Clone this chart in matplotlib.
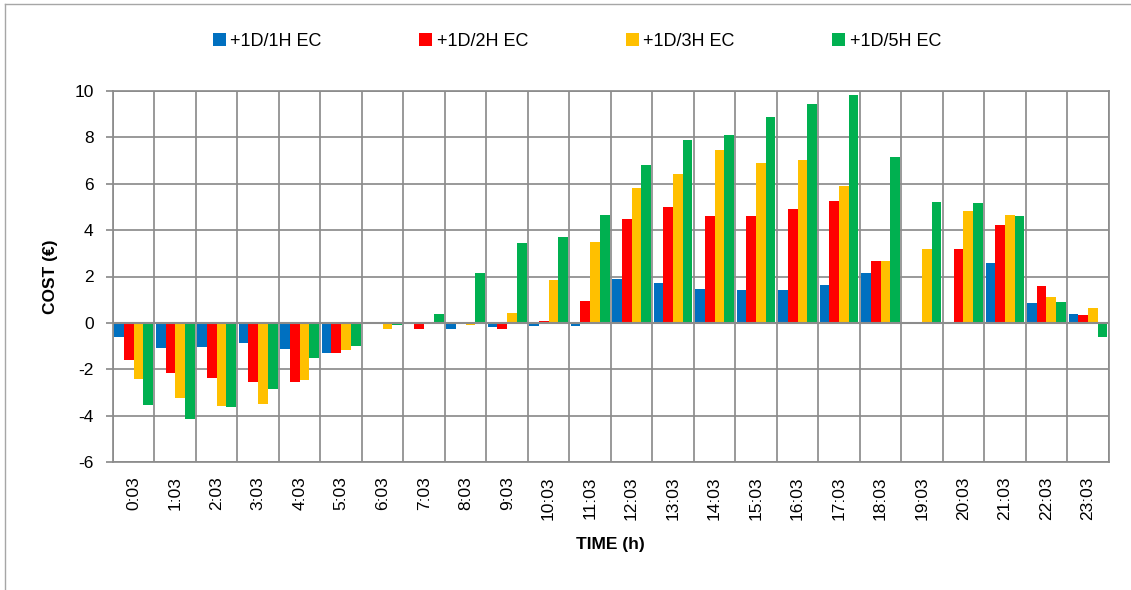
import matplotlib
matplotlib.use("Agg")
import matplotlib.pyplot as plt
import numpy as np
from matplotlib.lines import Line2D

plt.rcParams['font.family'] = ['Liberation Sans', 'DejaVu Sans']

hours = [f"{h}:03" for h in range(24)]
series_names = ["+1D/1H EC", "+1D/2H EC", "+1D/3H EC", "+1D/5H EC"]
colors = ["#0070C0", "#FF0000", "#FFC000", "#00B050"]

ec_1h = [-0.60, -1.10, -1.03, -0.87, -1.14, -1.29, 0.00, 0.00, -0.27, -0.19, -0.13, -0.13,
         1.88, 1.74, 1.45, 1.40, 1.40, 1.65, 2.17, 0.00, 0.00, 2.59, 0.85, 0.37]
ec_2h = [-1.60, -2.17, -2.39, -2.56, -2.53, -1.29, 0.00, -0.27, -0.07, -0.27, 0.07, 0.94,
         4.47, 4.99, 4.60, 4.59, 4.89, 5.27, 2.68, 0.00, 3.19, 4.20, 1.57, 0.36]
ec_3h = [-2.41, -3.23, -3.57, -3.49, -2.46, -1.17, -0.27, -0.07, -0.10, 0.41, 1.84, 3.50,
         5.83, 6.40, 7.45, 6.88, 7.04, 5.90, 2.68, 3.19, 4.82, 4.66, 1.11, 0.66]
ec_5h = [-3.54, -4.14, -3.63, -2.84, -1.51, -1.00, -0.10, 0.37, 2.16, 3.45, 3.70, 4.66,
         6.82, 7.87, 8.09, 8.89, 9.42, 9.83, 7.15, 5.21, 5.18, 4.59, 0.88, -0.63]

y_ticks = [-6, -4, -2, 0, 2, 4, 6, 8, 10]

W, H = 1131, 590
fig = plt.figure(figsize=(W / 100, H / 100), dpi=100)
left, right, top, bottom = 113 / W, 1108.7 / W, 1 - 91 / H, 1 - 462 / H
ax = fig.add_axes([left, bottom, right - left, top - bottom])

x = np.arange(len(hours))
bw = 0.234
all_series = [ec_1h, ec_2h, ec_3h, ec_5h]
handles = []
for k, (vals, c, name) in enumerate(zip(all_series, colors, series_names)):
    b = ax.bar(x + (k - 1.5) * bw, vals, width=bw, color=c, label=name, zorder=3, linewidth=0)
    handles.append(b)

grid_c = "#8c8c8c"
ax.set_xlim(-0.5, len(hours) - 0.5)
ax.set_ylim(-6, 10)
ax.set_yticks(y_ticks)
ax.set_yticklabels([str(v) for v in y_ticks])
ax.set_xticks(x)
ax.set_xticklabels(hours, rotation=90)
ax.set_xticks(np.arange(-0.5, len(hours), 1.0), minor=True)
ax.grid(False)
ax.xaxis.grid(True, which='minor', color=grid_c, lw=1.25, zorder=1)
ax.yaxis.grid(True, which='major', color=grid_c, lw=1.25, zorder=1)
ax.tick_params(axis='x', which='major', length=0, pad=10.5, labelsize=12.5, colors='black')
ax.tick_params(axis='x', which='minor', length=0)
ax.tick_params(axis='y', length=5, width=1.25, color=grid_c, pad=9, labelsize=12.5)
for s in ax.spines.values():
    s.set_color(grid_c)
    s.set_linewidth(1.25)

ax.axhline(0, color=grid_c, lw=1.5, zorder=4)

ax.set_ylabel("COST (€)", fontsize=12.5, fontweight='bold')
ax.yaxis.set_label_coords((51 - 113) / (1108.7 - 113), 0.5)
ax.yaxis.label.set_va('center')
ax.set_xlabel("TIME (h)", fontsize=12.5, fontweight='bold')
ax.xaxis.set_label_coords(0.5, (462 - 545) / (462 - 91))
ax.xaxis.label.set_va('center')

fig.legend(handles=handles, labels=series_names, loc='center',
           bbox_to_anchor=(577 / W, 1 - 41 / H), ncol=4, frameon=False,
           fontsize=13, handlelength=0.72, handleheight=0.72,
           handletextpad=0.25, columnspacing=5.4)

border_c = "#a6a6a6"
fig.add_artist(Line2D([5 / W, 5 / W], [0, 1 - 4 / H], color=border_c, lw=1, transform=fig.transFigure))
fig.add_artist(Line2D([5 / W, 1], [1 - 4 / H, 1 - 4 / H], color=border_c, lw=1, transform=fig.transFigure))

fig.savefig("out.png", dpi=100)
